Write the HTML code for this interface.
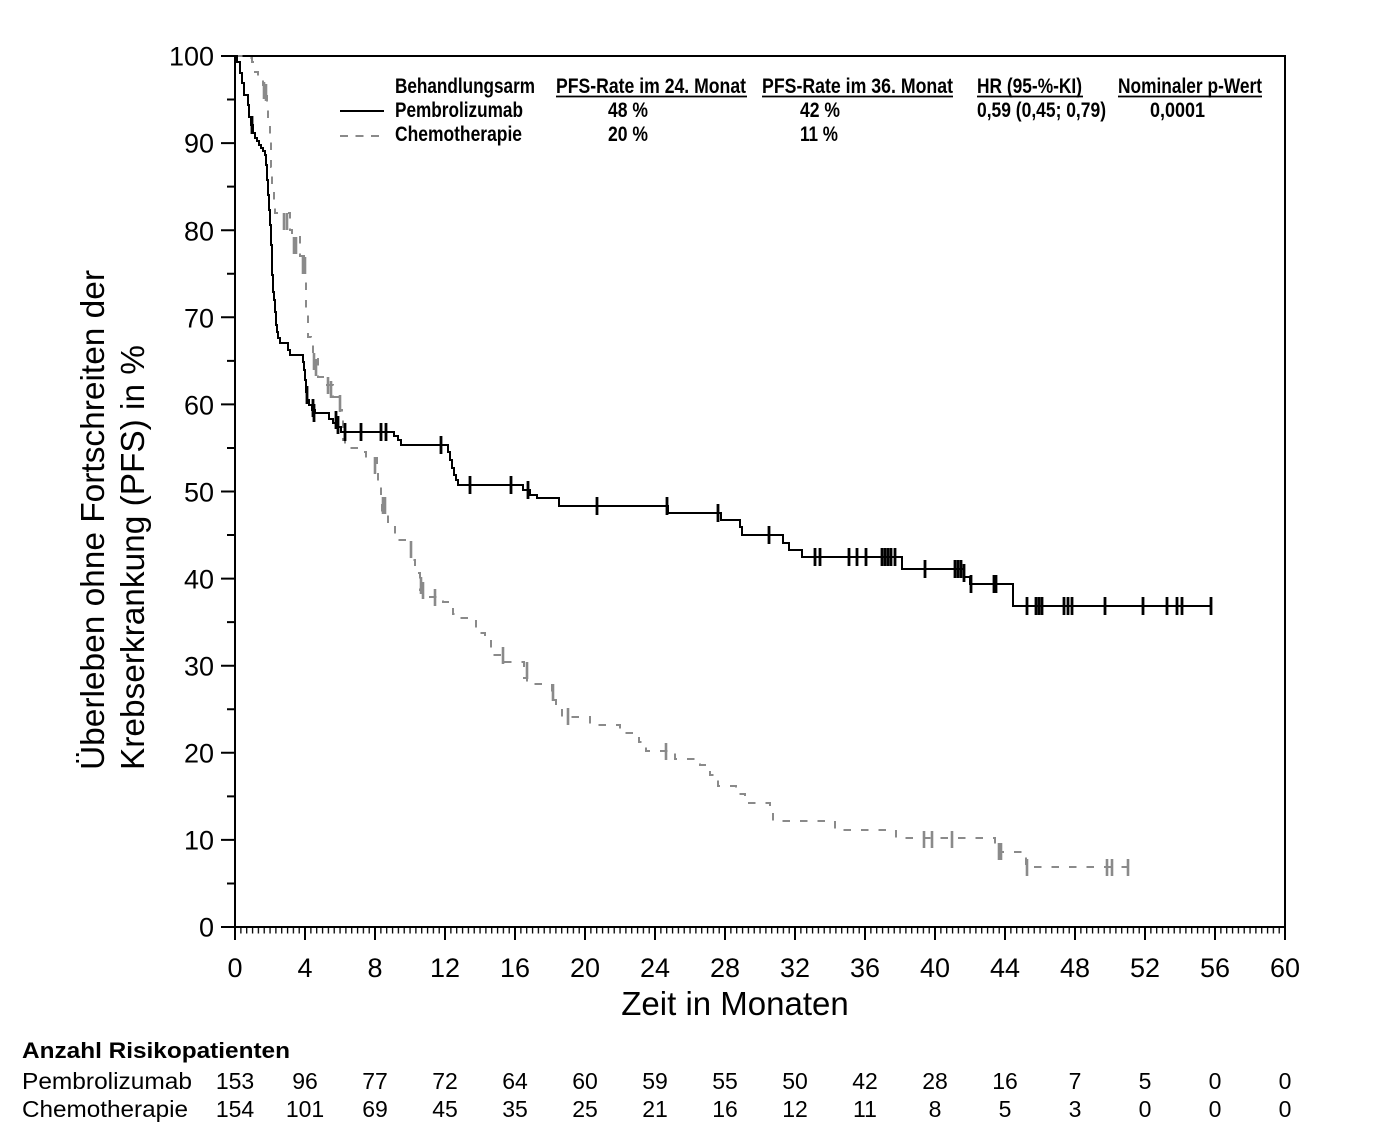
<!DOCTYPE html>
<html><head><meta charset="utf-8"><style>
html,body{margin:0;padding:0;background:#fff;}
svg{display:block;}
text{font-family:"Liberation Sans",Arial,sans-serif;fill:#000;}
</style></head><body>
<svg width="1386" height="1146" viewBox="0 0 1386 1146" xmlns="http://www.w3.org/2000/svg">
<defs>
<pattern id="mt" patternUnits="userSpaceOnUse" x="234.4" y="0" width="5.8333" height="20">
<rect x="0" y="0" width="1.3" height="20" fill="#000"/>
</pattern>
</defs>
<rect width="1386" height="1146" fill="#fff"/>

<!-- frame -->
<path d="M235,56 H1285 V927 H235 Z" fill="none" stroke="#000" stroke-width="2"/>
<!-- x minor ticks -->
<rect x="234.4" y="928" width="1051.5" height="5.5" fill="url(#mt)"/>
<!-- x major ticks -->
<path d="M235,927v13M305,927v13M375,927v13M445,927v13M515,927v13M585,927v13M655,927v13M725,927v13M795,927v13M865,927v13M935,927v13M1005,927v13M1075,927v13M1145,927v13M1215,927v13M1285,927v13" stroke="#000" stroke-width="2"/>
<!-- y ticks -->
<path d="M221,927h14M221,839.9h14M221,752.8h14M221,665.7h14M221,578.6h14M221,491.5h14M221,404.4h14M221,317.3h14M221,230.2h14M221,143.1h14M221,56h14
M227,883.45h8M227,796.35h8M227,709.25h8M227,622.15h8M227,535.05h8M227,447.95h8M227,360.85h8M227,273.75h8M227,186.65h8M227,99.55h8" stroke="#000" stroke-width="2"/>

<!-- y tick labels -->
<g font-size="27" text-anchor="end">
<text x="214" y="936.5">0</text>
<text x="214" y="849.5">10</text>
<text x="214" y="762.5">20</text>
<text x="214" y="675.5">30</text>
<text x="214" y="588.5">40</text>
<text x="214" y="501.5">50</text>
<text x="214" y="414.5">60</text>
<text x="214" y="327.5">70</text>
<text x="214" y="240.5">80</text>
<text x="214" y="152.5">90</text>
<text x="214" y="65.5">100</text>
</g>
<!-- x tick labels -->
<g font-size="27" text-anchor="middle">
<text x="235" y="977">0</text>
<text x="305" y="977">4</text>
<text x="375" y="977">8</text>
<text x="445" y="977">12</text>
<text x="515" y="977">16</text>
<text x="585" y="977">20</text>
<text x="655" y="977">24</text>
<text x="725" y="977">28</text>
<text x="795" y="977">32</text>
<text x="865" y="977">36</text>
<text x="935" y="977">40</text>
<text x="1005" y="977">44</text>
<text x="1075" y="977">48</text>
<text x="1145" y="977">52</text>
<text x="1215" y="977">56</text>
<text x="1285" y="977">60</text>
</g>
<text x="735" y="1015" font-size="33" text-anchor="middle">Zeit in Monaten</text>

<!-- y axis title -->
<text transform="translate(104,770) rotate(-90)" font-size="33" textLength="500" lengthAdjust="spacingAndGlyphs">Überleben ohne Fortschreiten der</text>
<text transform="translate(144,770) rotate(-90)" font-size="33" textLength="425" lengthAdjust="spacingAndGlyphs">Krebserkrankung (PFS) in %</text>

<!-- Chemotherapie curve -->
<path fill="none" stroke="#8a8a8a" stroke-width="2" stroke-dasharray="7.5 10" d="M235,56 L248,56 L248,58 L252,58 L252,62 L253,62 L253,72 L258,72 L258,78 L263,78 L263,85 L265,85 L265,96 L267,96 L267,102 L268,102 L268,120 L270,120 L270,140 L271,140 L271,167 L272,167 L272,187 L274,187 L274,205 L275,205 L275,213 L290,213 L290,230 L292,230 L292,237 L300,237 L300,256 L305,256 L305,280 L306,280 L306,313 L308,313 L308,337 L311,337 L311,345 L313,345 L313,352 L318,352 L318,377 L327,377 L327,385 L333,385 L333,397 L340,397 L340,410 L342,410 L342,418 L343,418 L343,440 L345,440 L345,448 L357,448 L357,452 L366,452 L366,458 L377,458 L377,472 L378,472 L378,487 L381,487 L381,497 L382,497 L382,513 L388,513 L388,523 L393,523 L393,527 L395,527 L395,537 L397,537 L397,540 L411,540 L411,560 L415,560 L415,573 L420,573 L420,590 L423,590 L423,597 L443,597 L443,602 L453,602 L453,614 L460,614 L460,618 L476,618 L476,628 L478,628 L478,633 L485,633 L485,640 L491,640 L491,655 L503,655 L503,662 L524,662 L524,678 L527,678 L527,684 L552,684 L552,700 L556,700 L556,708 L562,708 L562,717 L590,717 L590,725 L620,725 L620,733 L639,733 L639,742 L646,742 L646,751 L675,751 L675,759 L700,759 L700,765 L710,765 L710,775 L718,775 L718,786 L736,786 L736,794 L745,794 L745,803 L770,803 L770,812 L773,812 L773,821 L835,821 L835,830 L896,830 L896,838 L995,838 L995,845 L999,845 L999,852 L1026,852 L1026,867 L1128,867"/>
<!-- Chemo censor ticks -->
<path fill="none" stroke="#8a8a8a" stroke-width="2.6" d="M264,82v17M266,84v17M284,213v17M287,213v17M294,237v17M296,237v17M303,257v17M305,257v17M314,353v17M316,359v17M328,377v17M331,381v17M340,395v17M375,457v17M383,497v17M385,497v17M411,541v17M421,577v17M423,582v17M435,589v17M503,647v17M527,662v17M553,684v17M568,708v17M666,743v17M924,831v17M932,831v17M952,831v17M999,843v17M1001,843v17M1027,859v17M1107,859v17M1112,859v17M1128,859v17"/>

<!-- Pembrolizumab curve -->
<path fill="none" stroke="#000" stroke-width="2" d="M235,56 L237,56 L237,62 L240,62 L240,73 L242,73 L242,83 L244,83 L244,95 L248,95 L248,105 L249,105 L249,117 L251,117 L251,125 L253,125 L253,133 L255,133 L255,138 L257,138 L257,141 L259,141 L259,145 L261,145 L261,148 L263,148 L263,151 L265,151 L265,155 L266,155 L266,165 L267,165 L267,180 L268,180 L268,195 L269,195 L269,210 L270,210 L270,225 L271,225 L271,245 L272,245 L272,275 L273,275 L273,292 L274,292 L274,300 L275,300 L275,312 L276,312 L276,325 L277,325 L277,332 L278,332 L278,338 L280,338 L280,343 L288,343 L288,350 L290,350 L290,355 L303,355 L303,362 L304,362 L304,370 L305,370 L305,380 L306,380 L306,392 L307,392 L307,400 L309,400 L309,405 L312,405 L312,410 L315,410 L315,413 L329,413 L329,419 L333,419 L333,423 L338,423 L338,427 L341,427 L341,432 L394,432 L394,436 L398,436 L398,440 L401,440 L401,445 L448,445 L448,452 L450,452 L450,460 L452,460 L452,468 L454,468 L454,475 L456,475 L456,480 L458,480 L458,485 L523,485 L523,490 L530,490 L530,495 L537,495 L537,498 L559,498 L559,506 L668,506 L668,513 L721,513 L721,520 L740,520 L740,527 L742,527 L742,535 L783,535 L783,543 L789,543 L789,550 L802,550 L802,557 L902,557 L902,569 L964,569 L964,577 L970,577 L970,584 L1013,584 L1013,606 L1211,606"/>
<!-- Pembro censor ticks -->
<path fill="none" stroke="#000" stroke-width="2.8" d="M252,116v18M307,386v18M313,399v18M314,404v18M336,411v18M338,416v18M345,423v18M361,423v18M381,423v18M386,423v18M441,436v18M470,476v18M511,476v18M528,481v18M597,497v18M667,497v18M718,504v18M769,526v18M815,548v18M820,548v18M849,548v18M857,548v18M866,548v18M882,548v18M885,548v18M888,548v18M891,548v18M895,548v18M925,560v18M955,560v18M958,560v18M961,560v18M964,564v18M971,575v18M994,575v18M996,575v18M1027,597v18M1036,597v18M1039,597v18M1042,597v18M1064,597v18M1068,597v18M1072,597v18M1105,597v18M1143,597v18M1167,597v18M1177,597v18M1182,597v18M1211,597v18"/>

<!-- legend / table -->
<line x1="340" y1="111" x2="384" y2="111" stroke="#000" stroke-width="2"/>
<line x1="340" y1="136" x2="380" y2="136" stroke="#8a8a8a" stroke-width="2" stroke-dasharray="8 7.5"/>
<g font-size="21" font-weight="bold">
<text x="395" y="93" textLength="140" lengthAdjust="spacingAndGlyphs">Behandlungsarm</text>
<text x="556" y="93" textLength="190" lengthAdjust="spacingAndGlyphs">PFS-Rate im 24. Monat</text>
<text x="762" y="93" textLength="191" lengthAdjust="spacingAndGlyphs">PFS-Rate im 36. Monat</text>
<text x="977" y="93" textLength="105" lengthAdjust="spacingAndGlyphs">HR (95-%-KI)</text>
<text x="1118" y="93" textLength="144" lengthAdjust="spacingAndGlyphs">Nominaler p-Wert</text>
<text x="395" y="117" textLength="128" lengthAdjust="spacingAndGlyphs">Pembrolizumab</text>
<text x="608" y="117" textLength="40" lengthAdjust="spacingAndGlyphs">48 %</text>
<text x="800" y="117" textLength="40" lengthAdjust="spacingAndGlyphs">42 %</text>
<text x="977" y="117" textLength="129" lengthAdjust="spacingAndGlyphs">0,59 (0,45; 0,79)</text>
<text x="1150" y="117" textLength="55" lengthAdjust="spacingAndGlyphs">0,0001</text>
<text x="395" y="141" textLength="127" lengthAdjust="spacingAndGlyphs">Chemotherapie</text>
<text x="608" y="141" textLength="40" lengthAdjust="spacingAndGlyphs">20 %</text>
<text x="800" y="141" textLength="38" lengthAdjust="spacingAndGlyphs">11 %</text>
</g>
<path d="M556,96.5H747M762,96.5H953M977,96.5H1083M1118,96.5H1262" stroke="#000" stroke-width="1.8"/>

<!-- risk table -->
<text x="22" y="1058" font-size="22" font-weight="bold" textLength="268" lengthAdjust="spacingAndGlyphs">Anzahl Risikopatienten</text>
<text x="22" y="1089" font-size="23" textLength="170" lengthAdjust="spacingAndGlyphs">Pembrolizumab</text>
<text x="22" y="1117" font-size="23" textLength="166" lengthAdjust="spacingAndGlyphs">Chemotherapie</text>
<g font-size="23" text-anchor="middle">
<text x="235" y="1089">153</text><text x="305" y="1089">96</text><text x="375" y="1089">77</text><text x="445" y="1089">72</text>
<text x="515" y="1089">64</text><text x="585" y="1089">60</text><text x="655" y="1089">59</text><text x="725" y="1089">55</text>
<text x="795" y="1089">50</text><text x="865" y="1089">42</text><text x="935" y="1089">28</text><text x="1005" y="1089">16</text>
<text x="1075" y="1089">7</text><text x="1145" y="1089">5</text><text x="1215" y="1089">0</text><text x="1285" y="1089">0</text>
<text x="235" y="1117">154</text><text x="305" y="1117">101</text><text x="375" y="1117">69</text><text x="445" y="1117">45</text>
<text x="515" y="1117">35</text><text x="585" y="1117">25</text><text x="655" y="1117">21</text><text x="725" y="1117">16</text>
<text x="795" y="1117">12</text><text x="865" y="1117">11</text><text x="935" y="1117">8</text><text x="1005" y="1117">5</text>
<text x="1075" y="1117">3</text><text x="1145" y="1117">0</text><text x="1215" y="1117">0</text><text x="1285" y="1117">0</text>
</g>
</svg>
</body></html>
